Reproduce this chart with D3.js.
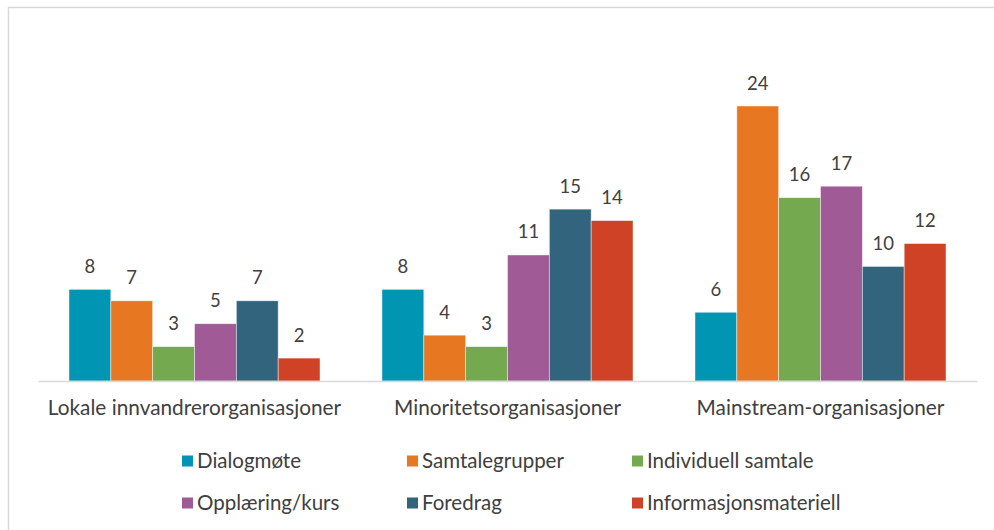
<!DOCTYPE html>
<html>
<head>
<meta charset="utf-8">
<script src="https://cdn.jsdelivr.net/npm/d3@7"></script>
<style>
  body { margin: 0; background: #fff; }
  text { font-family: "Source Sans Pro", Lato, "Open Sans", sans-serif; fill: #404040; }
</style>
</head>
<body>
<div id="chart"></div>
<script>
// data
const categories = ["Lokale innvandrerorganisasjoner", "Minoritetsorganisasjoner", "Mainstream-organisasjoner"];
const seriesNames = ["Dialogmøte", "Samtalegrupper", "Individuell samtale", "Opplæring/kurs", "Foredrag", "Informasjonsmateriell"];
const dialogmote = [8, 8, 6];
const samtalegrupper = [7, 4, 24];
const individuell = [3, 3, 16];
const opplaering = [5, 11, 17];
const foredrag = [7, 15, 10];
const informasjon = [2, 14, 12];
const colors = ["#0095b3", "#e87722", "#74a950", "#a05a96", "#32647e", "#d04225"];

const seriesValues = [dialogmote, samtalegrupper, individuell, opplaering, foredrag, informasjon];

const W = 994, H = 530;
const svg = d3.select("#chart").append("svg")
    .attr("width", W)
    .attr("height", H);

// ytre ramme
svg.append("rect")
    .attr("x", 8.5).attr("y", 7.5)
    .attr("width", W + 20).attr("height", H + 20)
    .attr("fill", "none")
    .attr("stroke", "#d9d9d9")
    .attr("stroke-width", 1.5);

const x0 = d3.scaleBand()
    .domain(categories)
    .range([38, 977])
    .paddingInner(0.198)
    .paddingOuter(0.099);

const x1 = d3.scaleBand()
    .domain(seriesNames)
    .range([0, x0.bandwidth()]);

const y = d3.scaleLinear()
    .domain([0, 24])
    .range([381, 106]);

// stolper
categories.forEach((cat, ci) => {
    const g = svg.append("g").attr("transform", `translate(${x0(cat)},0)`);
    seriesNames.forEach((s, si) => {
        const v = seriesValues[si][ci];
        g.append("rect")
            .attr("x", x1(s))
            .attr("y", y(v))
            .attr("width", x1.bandwidth())
            .attr("height", y(0) - y(v))
            .attr("fill", colors[si])
            .attr("stroke", "#fff")
            .attr("stroke-opacity", 0.6)
            .attr("stroke-width", 0.75);
        g.append("text")
            .attr("x", x1(s) + x1.bandwidth() / 2)
            .attr("y", y(v) - 16.5)
            .attr("text-anchor", "middle")
            .style("font-size", "18.5px")
            .text(v);
    });
});

// x-akse
const xAxis = svg.append("g")
    .attr("transform", `translate(0,${y(0)})`)
    .call(d3.axisBottom(x0.copy().paddingInner(0).paddingOuter(0)).tickSize(0).tickPadding(19));
xAxis.select(".domain").attr("stroke", "#d9d9d9").attr("stroke-width", 1.5);
xAxis.selectAll(".tick text")
    .attr("fill", "#404040")
    .style("font-family", "'Source Sans Pro', Lato, 'Open Sans', sans-serif")
    .style("font-size", "20.8px");

// tegnforklaring
const legendX = [182, 407, 632];
const legendY = [461, 503];
seriesNames.forEach((s, i) => {
    const lx = legendX[i % 3], ly = legendY[Math.floor(i / 3)];
    svg.append("rect")
        .attr("x", lx).attr("y", ly - 5.5)
        .attr("width", 11).attr("height", 11)
        .attr("fill", colors[i]);
    svg.append("text")
        .attr("x", lx + 15)
        .attr("y", ly)
        .attr("dy", "0.35em")
        .style("font-size", "20.5px")
        .text(s);
});
</script>
</body>
</html>
